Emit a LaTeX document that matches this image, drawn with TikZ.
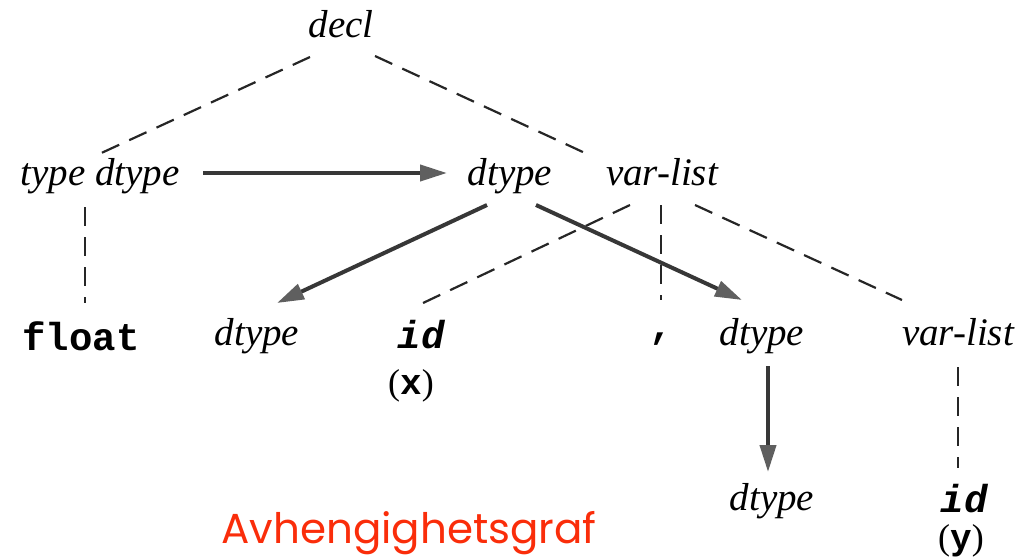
\documentclass[tikz,border=0pt]{standalone}
\usepackage{fontspec}
\setmainfont{Liberation Serif}
\newfontfamily\cour{Liberation Mono}
\newfontfamily\redfont{Poppins}
\usetikzlibrary{arrows.meta}
\definecolor{arrowgray}{RGB}{55,55,55}
\definecolor{headgray}{RGB}{95,95,95}
\definecolor{titlered}{RGB}{250,45,10}
\tikzset{
  lab/.style={anchor=base, inner sep=0pt, font=\fontsize{39}{44}\selectfont\itshape},
  tt/.style={anchor=base, inner sep=0pt, font=\fontsize{39}{44}\selectfont\cour\bfseries},
  ttit/.style={anchor=base, inner sep=0pt, font=\fontsize{39}{44}\selectfont\cour\bfseries\itshape},
  paren/.style={anchor=base, inner sep=0pt, font=\fontsize{36}{40}\selectfont},
  dep/.style={line width=2.2pt, dash pattern=on 19pt off 11pt, black!85},
  flow/.style={line width=4pt, arrowgray, -{Triangle[length=27pt,width=16pt,fill=headgray,color=headgray]}},
}
\begin{document}
\begin{tikzpicture}[x=1pt,y=-1pt]
\useasboundingbox (0,0) rectangle (1035,558);
% nodes
\node[lab] (decl) at (341,37) {decl};
\node[lab] (typen) at (100,185) {type dtype};
\node[lab] (dtm) at (510,185) {dtype};
\node[lab] (vl) at (662,185) {var-list};
\node[tt] (float) at (81,350) {float};
\node[lab] (dtl) at (257,345) {dtype};
\node[ttit] (idx) at (421,348) {id};
\node[paren] (xx) at (411,394) {({\cour\bfseries x})};
\node[tt] (comma) at (661,338) {,};
\node[lab] (dtr) at (762,345) {dtype};
\node[lab] (vlr) at (958,345) {var-list};
\node[lab] (dtb) at (772,510) {dtype};
\node[ttit] (idy) at (964,512) {id};
\node[paren] (yy) at (961,549) {({\cour\bfseries y})};
\node[anchor=base, inner sep=0pt, text=titlered, font=\fontsize{42}{46}\selectfont\redfont] (title) at (409,543) {Avhengighetsgraf};
% dashed parse-tree edges
\draw[dep] ([xshift=-31pt,yshift=-20pt]decl.base) -- ([xshift=-3pt,yshift=30pt]typen.base);
\draw[dep] ([xshift=34pt,yshift=-19pt]decl.base) -- ([xshift=-77pt,yshift=32pt]vl.base);
\draw[dep] ([xshift=-15pt,yshift=-22pt]typen.base) -- ([xshift=4pt,yshift=47pt]float.base);
\draw[dep] ([xshift=-32pt,yshift=-20pt]vl.base) -- ([xshift=2pt,yshift=45pt]idx.base);
\draw[dep] ([xshift=-1pt,yshift=-20pt]vl.base) -- ([yshift=38pt]comma.base);
\draw[dep] ([xshift=33pt,yshift=-20pt]vl.base) -- ([xshift=-56pt,yshift=45pt]vlr.base);
\draw[dep] ([yshift=-22pt]vlr.base) -- ([xshift=-6pt,yshift=44pt]idy.base);
% dependency arrows
\draw[flow] ([xshift=103pt,yshift=12pt]typen.base) -- ([xshift=-63pt,yshift=12pt]dtm.base);
\draw[flow] ([xshift=-23pt,yshift=-20pt]dtm.base) -- ([xshift=20pt,yshift=42pt]dtl.base);
\draw[flow] ([xshift=26pt,yshift=-20pt]dtm.base) -- ([xshift=-20pt,yshift=45pt]dtr.base);
\draw[flow] ([xshift=6pt,yshift=-21pt]dtr.base) -- ([xshift=-4pt,yshift=38pt]dtb.base);
\end{tikzpicture}
\end{document}
